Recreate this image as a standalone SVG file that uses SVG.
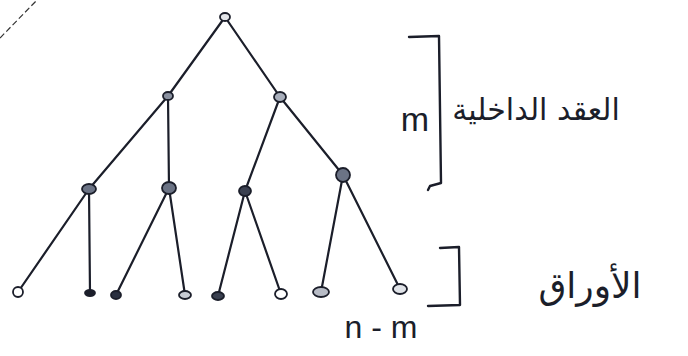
<svg xmlns="http://www.w3.org/2000/svg" width="688" height="356" viewBox="0 0 688 356">
<style>
.e{stroke:#1b1e2a;stroke-width:2.2;fill:none;stroke-linecap:round}
.n{fill:#6b7385;stroke:#1b1e2a;stroke-width:1.8}
.br{stroke:#1b1e2a;stroke-width:2.4;fill:none;stroke-linecap:round;stroke-linejoin:round}
.t{font-family:"DejaVu Sans","Noto Sans",sans-serif;fill:#1b1e2a}
.m{font-family:"Liberation Sans",sans-serif;fill:#1b1e2a}
</style>
<rect width="688" height="356" fill="#ffffff"/>
<path d="M0,38 L37,0" stroke="#333" stroke-width="1.2" stroke-dasharray="6,3" fill="none"/>
<g id="edges">
<path class="e" d="M225,17 L168,96"/>
<path class="e" d="M225,17 L280,97"/>
<path class="e" d="M168,96 L89,189"/>
<path class="e" d="M168,96 L169,188"/>
<path class="e" d="M280,97 L245,191"/>
<path class="e" d="M280,97 L343,175"/>
<path class="e" d="M89,189 L18,292"/>
<path class="e" d="M89,189 L90,293"/>
<path class="e" d="M169,188 L116,295"/>
<path class="e" d="M169,188 L185,295"/>
<path class="e" d="M245,191 L218,296"/>
<path class="e" d="M245,191 L281,294"/>
<path class="e" d="M343,175 L321,292"/>
<path class="e" d="M343,175 L400,289"/>
</g>
<g id="root"><ellipse class="n" cx="225" cy="17" rx="5" ry="4" style="fill:#e4e6ea"/></g>
<g id="n1"><ellipse class="n" cx="168" cy="96" rx="5" ry="4" style="fill:#8a91a0"/></g>
<g id="n2"><ellipse class="n" cx="280" cy="97" rx="6" ry="5" style="fill:#a8aebb"/></g>
<g id="n3"><ellipse class="n" cx="89" cy="189" rx="7" ry="5"/></g>
<g id="n4"><ellipse class="n" cx="169" cy="188" rx="7" ry="6"/></g>
<g id="n5"><ellipse class="n" cx="245" cy="191" rx="6" ry="5" style="fill:#3a4050"/></g>
<g id="n6"><ellipse class="n" cx="343" cy="175" rx="7" ry="7"/></g>
<g id="l1"><ellipse class="n" cx="18" cy="292" rx="5" ry="5" style="fill:#fff"/></g>
<g id="l2"><ellipse class="n" cx="90" cy="293" rx="5" ry="3" style="fill:#1b1e2a"/></g>
<g id="l3"><ellipse class="n" cx="116" cy="295" rx="5" ry="4" style="fill:#2a3040"/></g>
<g id="l4"><ellipse class="n" cx="185" cy="295" rx="6" ry="4" style="fill:#c8ccd5"/></g>
<g id="l5"><ellipse class="n" cx="218" cy="296" rx="6" ry="4" style="fill:#3a4050"/></g>
<g id="l6"><ellipse class="n" cx="281" cy="294" rx="6" ry="5" style="fill:#fff"/></g>
<g id="l7"><ellipse class="n" cx="321" cy="292" rx="8" ry="5" style="fill:#b8bcc6"/></g>
<g id="l8"><ellipse class="n" cx="400" cy="289" rx="7" ry="5" style="fill:#e0e3e8"/></g>
<g id="labels">
<path class="br" d="M409,37 L439,36 L441,183 L430,186 L428,190"/>
<path class="br" d="M440,248 L459,247 L460,305 L428,306"/>
<text class="m" x="415" y="131" font-size="34" text-anchor="middle">m</text>
<text class="t" x="536" y="120" font-size="30" text-anchor="middle" direction="rtl">العقد الداخلية</text>
<text class="t" x="590" y="298" font-size="36" text-anchor="middle" direction="rtl">الأوراق</text>
<text class="m" x="381" y="338" font-size="32" text-anchor="middle">n - m</text>
</g>
</svg>
